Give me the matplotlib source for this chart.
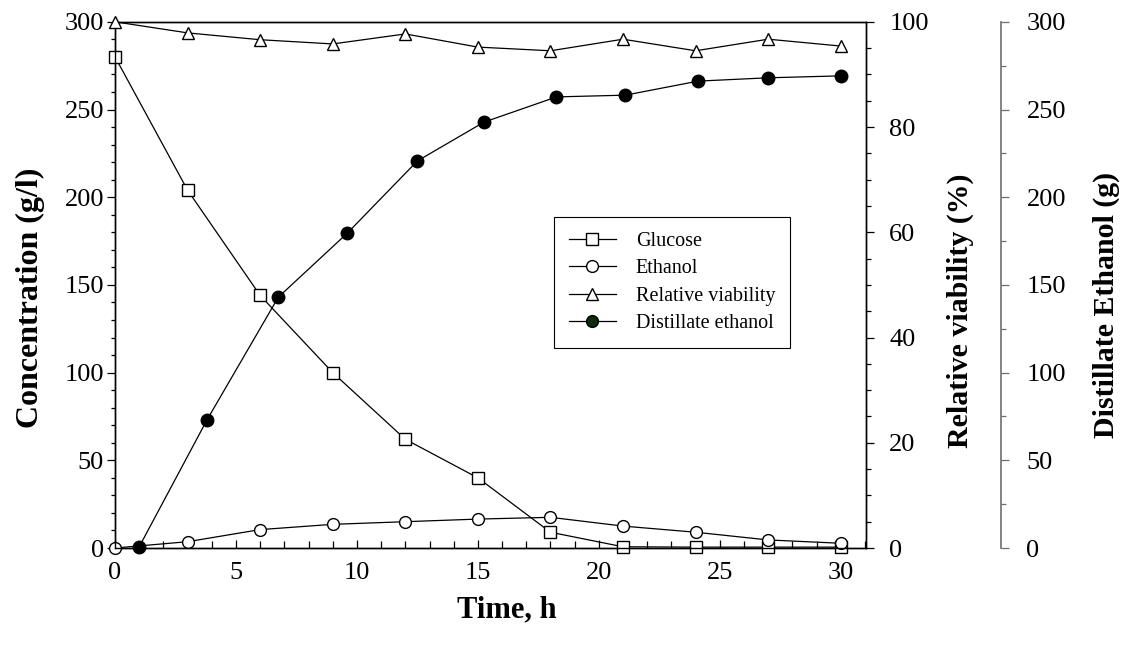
import matplotlib
matplotlib.use("Agg")
import matplotlib.pyplot as plt
from matplotlib.lines import Line2D
from matplotlib.ticker import MultipleLocator

plt.rcParams["font.family"] = ["Liberation Serif", "DejaVu Serif"]

# Fermentation time course (sampled every 3 h)
time_h = [0, 3, 6, 9, 12, 15, 18, 21, 24, 27, 30]
glucose = [280, 204, 144, 100, 62, 40, 9, 0.7, 0.5, 0.5, 0.5]
ethanol = [0, 3.6, 10.5, 13.5, 15, 16.5, 17.5, 12.5, 9, 4.6, 2.7]
viability = [100, 97.9, 96.6, 95.8, 97.7, 95.2, 94.5, 96.7, 94.5, 96.7, 95.4]

# Distillate collected
distill_time = [1.0, 3.8, 6.75, 9.6, 12.5, 15.25, 18.25, 21.1, 24.1, 27.0, 30.0]
distill_ethanol = [0.7, 73, 143, 179.5, 220.7, 242.8, 257.2, 258.2, 266.2, 268.1, 269.2]

tick_fs = 19
label_fs = 21.5

fig = plt.figure(figsize=(11.39, 6.48), dpi=100)
ax = fig.add_axes([0.101, 0.1543, 0.659, 0.812])
ax2 = ax.twinx()
ax3 = ax.twinx()

line_kw = dict(color="black", linewidth=0.9, markeredgewidth=1.0,
               markeredgecolor="black", clip_on=False)

ax.plot(time_h, glucose, marker="s", markersize=8.5, markerfacecolor="white", zorder=3, **line_kw)
ax.plot(time_h, ethanol, marker="o", markersize=8.5, markerfacecolor="white", zorder=3, **line_kw)
ax2.plot(time_h, viability, marker="^", markersize=8.5, markerfacecolor="white", zorder=3, **line_kw)
ax3.plot(distill_time, distill_ethanol, marker="o", markersize=9, markerfacecolor="black",
         zorder=3, **line_kw)

# x axis
ax.set_xlim(0, 31.03)
ax.xaxis.set_major_locator(MultipleLocator(5))
ax.xaxis.set_minor_locator(MultipleLocator(1))
ax.tick_params(axis="x", which="both", direction="in", top=False, labelsize=tick_fs, pad=10)
ax.tick_params(axis="x", which="major", length=6, width=0.9)
ax.tick_params(axis="x", which="minor", length=5, width=0.9)

# left axis: concentration
ax.set_ylim(0, 300)
ax.yaxis.set_major_locator(MultipleLocator(50))
ax.yaxis.set_minor_locator(MultipleLocator(10))
ax.tick_params(axis="y", which="both", direction="out", labelsize=tick_fs, pad=2)
ax.tick_params(axis="y", which="major", length=6, width=0.9)
ax.tick_params(axis="y", which="minor", length=3.2, width=0.9)

# right axis: relative viability
ax2.set_ylim(0, 100)
ax2.yaxis.set_major_locator(MultipleLocator(20))
ax2.yaxis.set_minor_locator(MultipleLocator(5))
ax2.tick_params(axis="y", which="both", direction="out", labelsize=tick_fs, pad=11)
ax2.tick_params(axis="y", which="major", length=6, width=0.9)
ax2.tick_params(axis="y", which="minor", length=3.6, width=0.9)

# offset axis: distillate ethanol
ax3.set_ylim(0, 300)
ax3.spines["right"].set_position(("axes", 1.181))
for side in ("top", "bottom", "left"):
    ax3.spines[side].set_visible(False)
ax3.spines["right"].set_color("#6e6e6e")
ax3.yaxis.set_major_locator(MultipleLocator(50))
ax3.yaxis.set_minor_locator(MultipleLocator(25))
ax3.tick_params(axis="y", which="both", direction="out", labelsize=tick_fs, pad=12,
                color="#6e6e6e")
ax3.tick_params(axis="y", which="major", length=6, width=0.9)
ax3.tick_params(axis="y", which="minor", length=3.6, width=0.9)

for a in (ax, ax2):
    for sp in a.spines.values():
        sp.set_linewidth(1.0)
ax3.spines["right"].set_linewidth(1.2)

# axis titles
ax.set_xlabel("Time, h", fontsize=22, fontweight="bold")
ax.xaxis.set_label_coords(0.522, -0.118)
ax.xaxis.label.set_va("center")

ylabels = [
    (ax, "Concentration (g/l)", 23, -0.113, 0.476),
    (ax2, "Relative viability (%)", label_fs, 1.126, 0.45),
    (ax3, "Distillate Ethanol (g)", label_fs, 1.321, 0.462),
]
for a, text, fs, lx, ly in ylabels:
    a.set_ylabel(text, fontsize=fs, fontweight="bold", rotation=90)
    a.yaxis.set_label_coords(lx, ly)
    a.yaxis.label.set_va("center")
    a.yaxis.label.set_ha("center")
    a.yaxis.label.set_rotation_mode("anchor")

# legend
handles = [
    Line2D([], [], color="black", linewidth=0.9, marker="s", markersize=8.5,
           markerfacecolor="white", markeredgecolor="black"),
    Line2D([], [], color="black", linewidth=0.9, marker="o", markersize=8.5,
           markerfacecolor="white", markeredgecolor="black"),
    Line2D([], [], color="black", linewidth=0.9, marker="^", markersize=8.5,
           markerfacecolor="white", markeredgecolor="black"),
    Line2D([], [], color="black", linewidth=0.9, marker="o", markersize=8.5,
           markerfacecolor="#0b2d0b", markeredgecolor="black"),
]
names = ["Glucose", "Ethanol", "Relative viability", "Distillate ethanol"]
leg = ax3.legend(handles, names, loc="upper left", bbox_to_anchor=(0.585, 0.629),
                 bbox_transform=ax.transAxes, borderaxespad=0, fontsize=14.5,
                 frameon=True, fancybox=False, framealpha=1, edgecolor="black",
                 handlelength=2.3, handletextpad=1.0, labelspacing=0.4,
                 borderpad=0.75)
leg.get_frame().set_linewidth(0.8)

fig.savefig("out.png", dpi=100)
